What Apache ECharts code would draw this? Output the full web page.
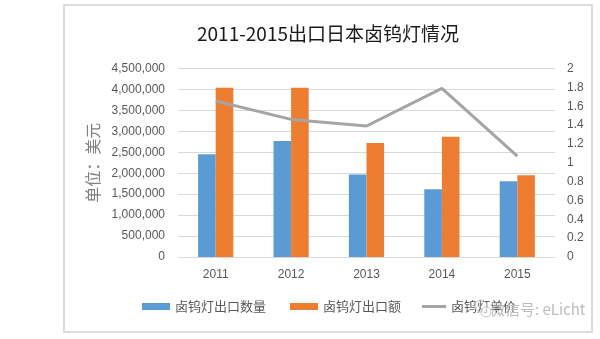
<!DOCTYPE html>
<html>
<head>
<meta charset="utf-8">
<script src="https://cdn.jsdelivr.net/npm/echarts@6/dist/echarts.min.js"></script>
<style>
  html, body { margin: 0; padding: 0; background: #fff; }
  #chart { width: 600px; height: 339px; }
</style>
</head>
<body>
<div id="chart"></div>
<script>
// Export of halogen tungsten lamps to Japan, 2011-2015
const years = ['2011', '2012', '2013', '2014', '2015'];
const exportQuantity = [2450000, 2770000, 1970000, 1620000, 1810000];
const exportValue = [4040000, 4040000, 2720000, 2870000, 1950000];
const unitPrice = [1.655, 1.46, 1.39, 1.79, 1.07];
const leftTicks = { min: 0, max: 4500000, interval: 500000 };
const rightTicks = { min: 0, max: 2, interval: 0.2 };

const seriesNames = ['卤钨灯出口数量', '卤钨灯出口额', '卤钨灯单价'];
const titleText = '2011-2015出口日本卤钨灯情况';
const unitLabel = '单位：美元';
const watermark = '微信号: eLicht';

const cjk = '"Noto Sans CJK SC", sans-serif';
const latin = '"Liberation Sans", "Noto Sans CJK SC", sans-serif';

function withCommas(v) {
  return String(v).replace(/\B(?=(\d{3})+(?!\d))/g, ',');
}

const chart = echarts.init(document.getElementById('chart'), null, { renderer: 'canvas' });

chart.setOption({
  animation: false,
  backgroundColor: '#ffffff',
  title: {
    text: titleText,
    left: 323,
    top: 19,
    textAlign: 'center',
    textStyle: { fontFamily: cjk, fontSize: 19, fontWeight: 'normal', color: '#1a1a1a' }
  },
  graphic: [
    {
      type: 'rect',
      shape: { x: 64, y: 5, width: 528, height: 327 },
      style: { fill: 'none', stroke: '#dcdcdc', lineWidth: 2 },
      silent: true,
      z: -1
    },
    {
      type: 'text',
      left: 490,
      top: 302,
      style: { text: watermark, fill: '#bdbdbd', font: '15px ' + cjk },
      z: 100
    },
    {
      type: 'circle',
      shape: { cx: 481, cy: 306, r: 6 },
      style: { fill: 'none', stroke: '#c4c4c4', lineWidth: 1 },
      z: 100
    },
    {
      type: 'circle',
      shape: { cx: 486, cy: 312, r: 5 },
      style: { fill: 'rgba(255,255,255,0.6)', stroke: '#c4c4c4', lineWidth: 1 },
      z: 100
    }
  ],
  legend: [
    {
      data: [seriesNames[0], seriesNames[1]],
      left: 142,
      top: 300,
      padding: 0,
      icon: 'rect',
      itemWidth: 28,
      itemHeight: 7,
      itemGap: 24,
      textStyle: { fontFamily: cjk, fontSize: 13, color: '#595959' }
    },
    {
      data: [seriesNames[2]],
      left: 422,
      top: 300,
      padding: 0,
      icon: 'rect',
      itemWidth: 24,
      itemHeight: 3,
      textStyle: { fontFamily: cjk, fontSize: 13, color: '#595959' }
    }
  ],
  grid: { left: 178, right: 45, top: 68.5, bottom: 82 },
  xAxis: {
    type: 'category',
    data: years,
    axisTick: { show: false },
    axisLine: { show: true, lineStyle: { color: '#d9d9d9', width: 1 } },
    axisLabel: { fontFamily: latin, fontSize: 12, color: '#595959', margin: 12 }
  },
  yAxis: [
    {
      type: 'value',
      min: leftTicks.min,
      max: leftTicks.max,
      interval: leftTicks.interval,
      name: unitLabel,
      nameLocation: 'middle',
      nameRotate: 90,
      nameGap: 76,
      nameTextStyle: { fontFamily: cjk, fontSize: 16, color: '#7f7f7f' },
      axisLine: { show: false },
      axisTick: { show: false },
      splitLine: { lineStyle: { color: '#d9d9d9', width: 1 } },
      axisLabel: {
        fontFamily: latin, fontSize: 12, color: '#595959', margin: 13,
        formatter: withCommas
      }
    },
    {
      type: 'value',
      min: rightTicks.min,
      max: rightTicks.max,
      interval: rightTicks.interval,
      axisLine: { show: false },
      axisTick: { show: false },
      splitLine: { show: false },
      axisLabel: {
        fontFamily: latin, fontSize: 12, color: '#595959', margin: 12,
        formatter: v => String(Math.round(v * 10) / 10)
      }
    }
  ],
  series: [
    {
      name: seriesNames[0],
      type: 'bar',
      data: exportQuantity,
      yAxisIndex: 0,
      barWidth: 17.6,
      barGap: '0%',
      itemStyle: { color: '#5b9bd5' }
    },
    {
      name: seriesNames[1],
      type: 'bar',
      data: exportValue,
      yAxisIndex: 0,
      barWidth: 17.6,
      barGap: '0%',
      itemStyle: { color: '#ed7d31' }
    },
    {
      name: seriesNames[2],
      type: 'line',
      data: unitPrice,
      yAxisIndex: 1,
      symbol: 'none',
      z: 5,
      lineStyle: { color: '#a5a5a5', width: 3 },
      itemStyle: { color: '#a5a5a5' }
    }
  ]
});
</script>
</body>
</html>
